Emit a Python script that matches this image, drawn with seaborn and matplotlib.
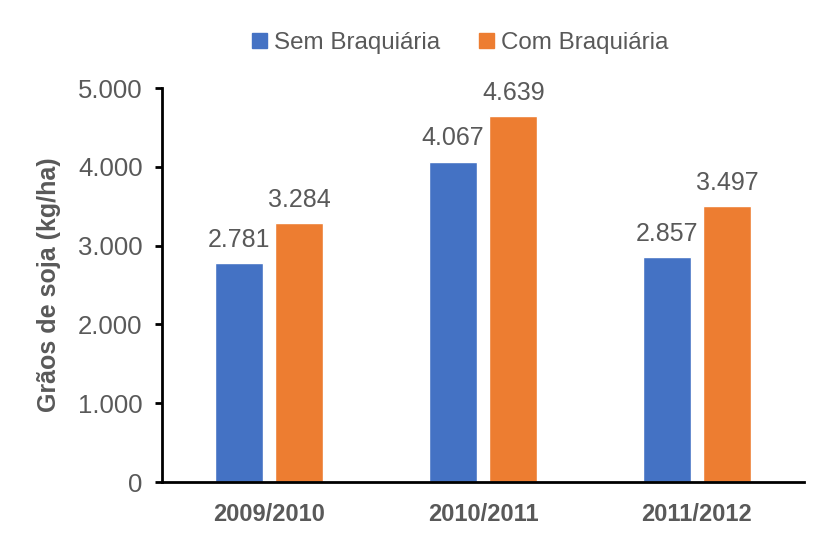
import seaborn as sns
import pandas as pd
import matplotlib.pyplot as plt
from matplotlib.ticker import FuncFormatter

safras = ['2009/2010', '2010/2011', '2011/2012']
sem_braq = [2781, 4067, 2857]
com_braq = [3284, 4639, 3497]
series = ['Sem Braquiária', 'Com Braquiária']

df = pd.DataFrame({
    'safra': safras * 2,
    'tipo': [series[0]] * 3 + [series[1]] * 3,
    'valor': sem_braq + com_braq,
})

sns.set_style('white')
plt.rcParams['font.family'] = ['Liberation Sans', 'DejaVu Sans']
cinza = '#595959'
cores = ['#4472C4', '#ED7D31']

fig = plt.figure(figsize=(8.25, 5.39), dpi=100)
ax = fig.add_axes([162 / 825, 1 - 482 / 539, 642 / 825, 394 / 539])

sns.barplot(data=df, x='safra', y='valor', hue='tipo', palette=cores,
            width=0.567, gap=0.21, ax=ax, legend=False, saturation=1)

def fmt(v):
    return f'{v:,.0f}'.replace(',', '.')

for cont in ax.containers:
    ax.bar_label(cont, labels=[fmt(v) for v in cont.datavalues], padding=8,
                 fontsize=18, color=cinza)

ax.set_xlim(-0.5, 2.5)
ax.set_ylim(0, 5000)
ax.set_yticks([0, 1000, 2000, 3000, 4000, 5000])
ax.yaxis.set_major_formatter(FuncFormatter(lambda v, p: fmt(v)))
ax.tick_params(axis='y', labelsize=18.5, labelcolor=cinza, color='black', length=5, width=2,
               left=True, direction='out', pad=9)
ax.tick_params(axis='x', labelsize=17, labelcolor=cinza, length=0, pad=15)
for lab in ax.get_xticklabels():
    lab.set_fontweight('bold')
ax.set_xlabel('')
ax.set_ylabel('Grãos de soja (kg/ha)', fontsize=18, fontweight='bold', color=cinza, labelpad=12)

for s in ['top', 'right']:
    ax.spines[s].set_visible(False)
for s in ['left', 'bottom']:
    ax.spines[s].set_color('black')
    ax.spines[s].set_linewidth(2)

handles = [plt.Rectangle((0, 0), 1, 1, color=c) for c in cores]
leg = fig.legend(handles, series, loc='center', bbox_to_anchor=(460 / 825, 1 - 43 / 539),
                 ncol=2, frameon=False, fontsize=17.4, handlelength=0.62, handleheight=0.62,
                 handletextpad=0.3, columnspacing=1.6)
for t in leg.get_texts():
    t.set_color(cinza)

fig.savefig('out.png', dpi=100)
